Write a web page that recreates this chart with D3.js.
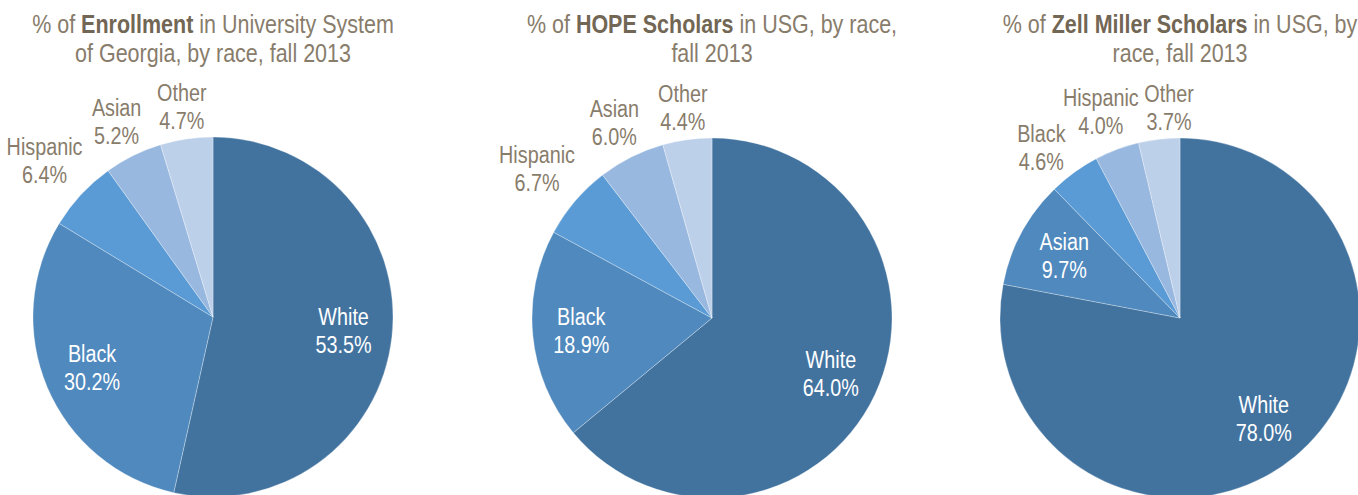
<!DOCTYPE html>
<html>
<head>
<meta charset="utf-8">
<script src="https://cdn.jsdelivr.net/npm/d3@7"></script>
<style>
  html, body { margin: 0; padding: 0; background: #fff; }
  svg { display: block; }
  text { font-family: "Liberation Sans Narrow", "Arial Narrow", "Liberation Sans", sans-serif; }
</style>
</head>
<body>
<svg id="chart" width="1358" height="495"></svg>
<script>
// ---- data ----
const enrollCategories = ["White", "Black", "Hispanic", "Asian", "Other"];
const enrollValues     = [53.5, 30.2, 6.4, 5.2, 4.7];

const hopeCategories = ["White", "Black", "Hispanic", "Asian", "Other"];
const hopeValues     = [64.0, 18.9, 6.7, 6.0, 4.4];

const zellCategories = ["White", "Asian", "Black", "Hispanic", "Other"];
const zellValues     = [78.0, 9.7, 4.6, 4.0, 3.7];

const enrollTitle = [[["% of ", false], ["Enrollment", true], [" in University System", false]],
                     [["of Georgia, by race, fall 2013", false]]];
const hopeTitle   = [[["% of ", false], ["HOPE Scholars", true], [" in USG, by race,", false]],
                     [["fall 2013", false]]];
const zellTitle   = [[["% of ", false], ["Zell Miller Scholars", true], [" in USG, by", false]],
                     [["race, fall 2013", false]]];

const sliceColors = ["#42739f", "#4f89bd", "#5b9bd5", "#98b8df", "#bdd0ea"];

// ---- drawing ----
const svg = d3.select("#chart");
const radius = 180;
const condense = 0.86;   // emulate a condensed face
const pies = [
  { cats: enrollCategories, vals: enrollValues, title: enrollTitle, cx: 213, cy: 317 },
  { cats: hopeCategories,   vals: hopeValues,   title: hopeTitle,   cx: 712, cy: 318 },
  { cats: zellCategories,   vals: zellValues,   title: zellTitle,   cx: 1180, cy: 318 }
];

const pieLayout = d3.pie().sort(null).value(d => d.value);
const arc = d3.arc().innerRadius(0).outerRadius(radius);
const labelArc = d3.arc().innerRadius(radius * 0.73).outerRadius(radius * 0.73);

function outsidePos(o) {
  const s = Math.sin(o.a), c = Math.cos(o.a);
  const dist = radius + 7 + Math.abs(c) * 44 / 2 + Math.abs(s) * o.w / 2;
  o.x = s * dist; o.y = -c * dist;
}
function overlaps(a, b) {
  return Math.abs(a.x - b.x) < (a.w + b.w) / 2 + 4 && Math.abs(a.y - b.y) < 36;
}

pies.forEach(p => {
  const data = p.cats.map((c, i) => ({ name: c, value: p.vals[i], idx: i }));
  const g = svg.append("g").attr("transform", `translate(${p.cx},${p.cy})`);

  g.selectAll("path.slice")
    .data(pieLayout(data))
    .join("path")
    .attr("class", "slice")
    .attr("d", arc)
    .attr("fill", d => sliceColors[d.data.idx])
    .attr("stroke", "rgba(255,255,255,0.5)")
    .attr("stroke-width", 0.6);

  // title
  const tg = svg.append("g").attr("transform", `translate(${p.cx},0) scale(${condense},1)`);
  const t = tg.append("text")
    .attr("text-anchor", "middle")
    .attr("font-size", 25);
  p.title.forEach((line, li) => {
    line.forEach((seg, si) => {
      const ts = t.append("tspan").text(seg[0])
        .attr("fill", seg[1] ? "#726654" : "#887c6b")
        .attr("font-weight", seg[1] ? "bold" : "normal");
      if (si === 0) ts.attr("x", 0).attr("y", 33 + li * 29);
    });
  });

  // labels
  const outside = [];
  pieLayout(data).forEach(d => {
    const inside = d.data.value >= 7;
    const lg = g.append("g");
    const lbl = lg.append("text")
      .attr("text-anchor", "middle")
      .attr("font-size", 23)
      .attr("fill", inside ? "#ffffff" : "#887c6b");
    const l1 = lbl.append("tspan").text(d.data.name).attr("x", 0).attr("y", -6);
    const l2 = lbl.append("tspan").text(d3.format(".1f")(d.data.value) + "%").attr("x", 0).attr("y", 22);
    if (inside) {
      const [x, y] = labelArc.centroid(d);
      lg.attr("transform", `translate(${x},${y}) scale(${condense},1)`);
    } else {
      const w = condense * Math.max(l1.node().getComputedTextLength(), l2.node().getComputedTextLength());
      const o = { g: lg, a: (d.startAngle + d.endAngle) / 2, w };
      outsidePos(o);
      outside.push(o);
    }
  });
  // slide overlapping neighbours apart along the circle
  for (let it = 0; it < 400; it++) {
    let moved = false;
    for (let i = 1; i < outside.length; i++) {
      const a = outside[i - 1], b = outside[i];
      if (overlaps(a, b)) {
        a.a -= 0.004; b.a += 0.004;
        outsidePos(a); outsidePos(b);
        moved = true;
      }
    }
    if (!moved) break;
  }
  outside.forEach(o => o.g.attr("transform", `translate(${o.x},${o.y}) scale(${condense},1)`));
});
</script>
</body>
</html>
